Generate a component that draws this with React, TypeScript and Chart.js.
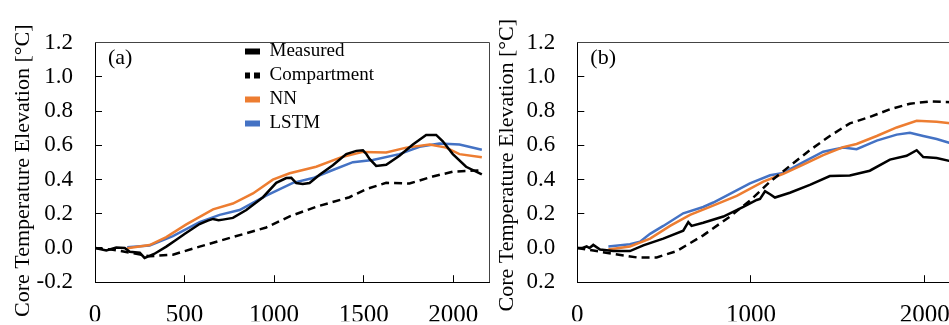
import React, { useEffect, useRef } from "react";
import { Chart, registerables } from "chart.js";

Chart.register(...registerables);

const FONT = "'Liberation Serif', 'Times New Roman', serif";
const SERIES_NAMES = ["Measured", "Compartment", "NN", "LSTM"];
const SERIES_COLORS = ["#000000", "#000000", "#ED7D31", "#4472C4"];
const Y_TITLE = "Core Temperature Elevation [°C]";
const Y_TICK_VALUES = [-0.2, 0, 0.2, 0.4, 0.6, 0.8, 1.0, 1.2];
const Y_TICK_LABELS_A = ["-0.2", "0.0", "0.2", "0.4", "0.6", "0.8", "1.0", "1.2"];
const Y_TICK_LABELS_B = ["0.2", "0.0", "0.2", "0.4", "0.6", "0.8", "1.0", "1.2"];
const X_TICKS_A = [0, 500, 1000, 1500, 2000];
const X_TICKS_B = [0, 1000, 2000];
const PANEL_LABELS = ["(a)", "(b)"];

// ---- Panel (a) ----
const aMeasuredX = [0, 63, 119, 166, 194, 250, 277, 330, 398, 450, 500, 584, 630, 659, 690, 714, 770, 845, 938, 1012, 1068, 1096, 1124, 1160, 1198, 1254, 1328, 1403, 1459, 1496, 1515, 1533, 1570, 1626, 1700, 1775, 1849, 1905, 1942, 1998, 2072, 2160];
const aMeasured = [0.0, -0.015, 0.003, 0.0, -0.022, -0.028, -0.058, -0.035, 0.008, 0.045, 0.082, 0.14, 0.16, 0.17, 0.162, 0.166, 0.176, 0.222, 0.297, 0.381, 0.409, 0.41, 0.38, 0.375, 0.38, 0.428, 0.484, 0.549, 0.568, 0.571, 0.55, 0.521, 0.48, 0.487, 0.54, 0.605, 0.661, 0.661, 0.624, 0.549, 0.475, 0.43];
const aCompX = [0, 100, 212, 305, 435, 584, 770, 956, 1087, 1235, 1421, 1514, 1626, 1756, 1886, 1998, 2160];
const aComp = [0, -0.01, -0.03, -0.048, -0.039, 0.008, 0.064, 0.12, 0.185, 0.241, 0.297, 0.344, 0.381, 0.377, 0.418, 0.446, 0.455];
const aNNX = [180, 305, 398, 510, 659, 770, 882, 993, 1087, 1235, 1384, 1496, 1626, 1738, 1868, 1961, 2035, 2160];
const aNN = [-0.002, 0.017, 0.064, 0.138, 0.226, 0.26, 0.319, 0.4, 0.437, 0.475, 0.534, 0.562, 0.559, 0.587, 0.605, 0.587, 0.549, 0.531];
const aLSTMX = [180, 305, 435, 584, 696, 807, 956, 1105, 1217, 1328, 1440, 1551, 1700, 1812, 1923, 2035, 2160];
const aLSTM = [0.004, 0.015, 0.069, 0.151, 0.194, 0.222, 0.306, 0.381, 0.409, 0.456, 0.502, 0.515, 0.549, 0.592, 0.611, 0.605, 0.575];

// ---- Panel (b) ----
const bMeasuredX = [0, 30, 54, 70, 92, 131, 207, 303, 380, 495, 610, 639, 658, 725, 841, 956, 1033, 1052, 1081, 1110, 1138, 1224, 1339, 1454, 1569, 1684, 1800, 1896, 1954, 1992, 2069, 2160];
const bMeasured = [0, 0.0, 0.009, 0.0, 0.018, -0.009, -0.018, -0.018, 0.015, 0.055, 0.101, 0.151, 0.129, 0.148, 0.184, 0.24, 0.281, 0.287, 0.332, 0.314, 0.295, 0.323, 0.369, 0.421, 0.424, 0.452, 0.517, 0.539, 0.572, 0.532, 0.526, 0.505];
const bCompX = [0, 111, 207, 342, 457, 572, 725, 879, 994, 1110, 1224, 1339, 1454, 1569, 1684, 1800, 1915, 2030, 2160];
const bComp = [0, -0.018, -0.035, -0.055, -0.055, -0.018, 0.074, 0.184, 0.277, 0.388, 0.48, 0.572, 0.655, 0.729, 0.766, 0.811, 0.844, 0.857, 0.853];
const bNNX = [179, 303, 419, 534, 649, 764, 918, 1071, 1186, 1301, 1416, 1531, 1608, 1724, 1839, 1954, 2069, 2160];
const bNN = [-0.009, 0.009, 0.055, 0.129, 0.194, 0.24, 0.305, 0.388, 0.434, 0.487, 0.543, 0.59, 0.608, 0.655, 0.705, 0.744, 0.738, 0.728];
const bLSTMX = [179, 303, 361, 419, 495, 610, 725, 783, 879, 994, 1110, 1186, 1301, 1416, 1531, 1608, 1724, 1839, 1915, 1992, 2069, 2160];
const bLSTM = [0.009, 0.022, 0.037, 0.083, 0.129, 0.203, 0.24, 0.266, 0.317, 0.378, 0.425, 0.439, 0.502, 0.563, 0.587, 0.578, 0.628, 0.663, 0.674, 0.655, 0.637, 0.61];

function pts(xs: number[], ys: number[]) {
  return xs.map((x, i) => ({ x, y: ys[i] }));
}

function makeDatasets(series: [number[], number[]][]) {
  return series.map(([xs, ys], i) => ({
    label: SERIES_NAMES[i],
    data: pts(xs, ys),
    borderColor: SERIES_COLORS[i],
    backgroundColor: SERIES_COLORS[i],
    borderWidth: 2.5,
    borderDash: i === 1 ? [8, 5] : [],
    pointRadius: 0,
    tension: 0,
    fill: false,
  }));
}

function framePlugin(label: string) {
  return {
    id: "frameLabel",
    afterDraw(chart: any) {
      const { ctx, chartArea: a } = chart;
      ctx.save();
      ctx.strokeStyle = "#444";
      ctx.lineWidth = 1;
      ctx.beginPath();
      const t = Math.floor(a.top) + 0.5;
      const r = Math.floor(a.right) + 0.5;
      ctx.moveTo(a.left, t);
      ctx.lineTo(r, t);
      ctx.lineTo(r, a.bottom);
      ctx.stroke();
      ctx.fillStyle = "#000";
      ctx.font = `22px ${FONT}`;
      ctx.textAlign = "left";
      ctx.textBaseline = "middle";
      ctx.fillText(label, a.left + 13, a.top + 15);
      ctx.restore();
    },
  };
}

function makeOptions(p: {
  padTop: number; padRight: number; yWidth: number; titlePad: number; title: string;
  xTicks: number[]; yLabels: string[]; legend: boolean;
}) {
  return {
    responsive: false,
    animation: false,
    devicePixelRatio: 1,
    layout: { padding: { left: 0, top: p.padTop, right: p.padRight, bottom: 0 } },
    scales: {
      x: {
        type: "linear",
        min: 0,
        max: 2200,
        afterBuildTicks: (s: any) => { s.ticks = p.xTicks.map((v) => ({ value: v })); },
        afterFit: (s: any) => { s.height = 39; s.paddingLeft = 0; s.paddingRight = 0; },
        ticks: {
          autoSkip: false,
          maxRotation: 0,
          minRotation: 0,
          padding: 25,
          color: "#000",
          font: { family: FONT, size: 25 },
          callback: (v: any) => String(v),
        },
        grid: { drawOnChartArea: false, tickLength: -7, color: "#000", tickColor: "#000" },
        border: { color: "#000", width: 1 },
      },
      y: {
        type: "linear",
        min: -0.2,
        max: 1.2,
        afterBuildTicks: (s: any) => { s.ticks = Y_TICK_VALUES.map((v) => ({ value: v })); },
        afterFit: (s: any) => { s.width = p.yWidth; },
        ticks: {
          autoSkip: false,
          padding: 29,
          color: "#000",
          font: { family: FONT, size: 23 },
          callback: (v: any) => {
            const idx = Y_TICK_VALUES.findIndex((t) => Math.abs(t - v) < 1e-6);
            return idx >= 0 ? p.yLabels[idx] : "";
          },
        },
        grid: { drawOnChartArea: false, tickLength: -7, color: "#000", tickColor: "#000" },
        border: { color: "#000", width: 1 },
        title: {
          display: true,
          text: p.title,
          color: "#000",
          font: { family: FONT, size: 22 },
          padding: { top: p.titlePad, bottom: 0 },
        },
      },
    },
    plugins: {
      tooltip: { enabled: false },
      legend: {
        display: p.legend,
        position: "chartArea",
        align: "start",
        labels: {
          color: "#000",
          font: { family: FONT, size: 19 },
          usePointStyle: true,
          pointStyleWidth: 15,
          boxWidth: 15,
          boxHeight: 6,
          padding: 5,
          generateLabels: (chart: any) => {
            const items = (Chart as any).defaults.plugins.legend.labels.generateLabels(chart);
            return items.map((it: any, i: number) => ({
              ...it,
              pointStyle: "line",
              lineWidth: 6,
              lineCap: "butt",
              lineDash: i === 1 ? [5, 4, 6, 0] : [],
              lineDashOffset: 0,
            }));
          },
        },
      },
    },
  };
}

const legendPosPlugin = {
  id: "legendPos",
  afterLayout(chart: any) {
    const lg = chart.legend;
    if (lg) {
      lg.left = 240;
      lg.top = 37;
    }
  },
};

export default function App() {
  const refA = useRef<HTMLCanvasElement>(null);
  const refB = useRef<HTMLCanvasElement>(null);

  useEffect(() => {
    const chartA = new Chart(refA.current as HTMLCanvasElement, {
      type: "line",
      data: {
        datasets: makeDatasets([
          [aMeasuredX, aMeasured],
          [aCompX, aComp],
          [aNNX, aNN],
          [aLSTMX, aLSTM],
        ]) as any,
      },
      options: makeOptions({
        padTop: 36, padRight: 3, yWidth: 95, titlePad: 10, title: Y_TITLE + "   ",
        xTicks: X_TICKS_A, yLabels: Y_TICK_LABELS_A, legend: true,
      }) as any,
      plugins: [framePlugin(PANEL_LABELS[0]), legendPosPlugin],
    });
    const chartB = new Chart(refB.current as HTMLCanvasElement, {
      type: "line",
      data: {
        datasets: makeDatasets([
          [bMeasuredX, bMeasured],
          [bCompX, bComp],
          [bNNX, bNN],
          [bLSTMX, bLSTM],
        ]) as any,
      },
      options: makeOptions({
        padTop: 33.3, padRight: 3.6, yWidth: 97.3, titlePad: 14, title: Y_TITLE + " ",
        xTicks: X_TICKS_B, yLabels: Y_TICK_LABELS_B, legend: false,
      }) as any,
      plugins: [framePlugin(PANEL_LABELS[1])],
    });
    return () => {
      chartA.destroy();
      chartB.destroy();
    };
  }, []);

  return (
    <div style={{ position: "absolute", left: 0, top: 0, width: 949, height: 325, overflow: "hidden", background: "#fff" }}>
      <div style={{ position: "absolute", left: 0, top: 0, width: 492, height: 325 }}>
        <canvas ref={refA} width={492} height={325} style={{ display: "block" }} />
      </div>
      <div style={{ position: "absolute", left: 480, top: 0, width: 483, height: 325 }}>
        <canvas ref={refB} width={483} height={325} style={{ display: "block" }} />
      </div>
    </div>
  );
}
